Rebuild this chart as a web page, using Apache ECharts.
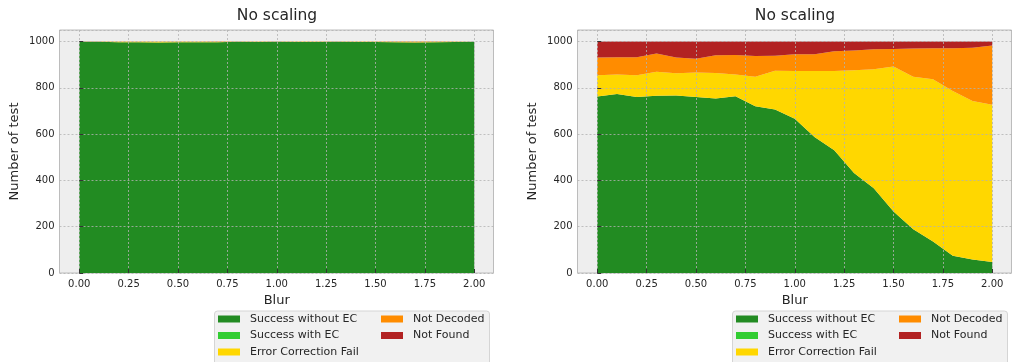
<!DOCTYPE html>
<html>
<head>
<meta charset="utf-8">
<script src="https://cdn.jsdelivr.net/npm/echarts@6/dist/echarts.min.js"></script>
<style>
  html, body { margin: 0; padding: 0; background: #ffffff; }
  #chart { width: 1012px; height: 362px; }
</style>
</head>
<body>
<div id="chart"></div>
<script>
// Blur levels tested (x values)
const blur = ['0.0', '0.1', '0.2', '0.3', '0.4', '0.5', '0.6', '0.7', '0.8', '0.9', '1.0',
              '1.1', '1.2', '1.3', '1.4', '1.5', '1.6', '1.7', '1.8', '1.9', '2.0'];

const seriesNames = ['Success without EC', 'Success with EC', 'Error Correction Fail', 'Not Decoded', 'Not Found'];

// Left panel: outcome counts per blur level
const leftSuccessNoEC = [999, 999, 997, 997, 996, 997, 997, 997, 999, 998, 999, 998, 998, 999, 998, 998, 997, 996, 997, 998, 999];
const leftSuccessEC   = [0, 0, 0, 0, 0, 0, 0, 0, 0, 0, 0, 0, 0, 0, 0, 0, 0, 0, 0, 0, 0];
const leftECFail      = [0, 0, 2, 2, 3, 2, 2, 1, 0, 1, 0, 1, 1, 0, 1, 1, 1, 1, 1, 1, 0];
const leftNotDecoded  = [1, 1, 1, 1, 1, 1, 1, 2, 1, 1, 1, 1, 1, 1, 1, 1, 2, 3, 2, 1, 1];
const leftNotFound    = [0, 0, 0, 0, 0, 0, 0, 0, 0, 0, 0, 0, 0, 0, 0, 0, 0, 0, 0, 0, 0];

// Right panel: outcome counts per blur level
const rightSuccessNoEC = [763, 773, 760, 766, 767, 760, 754, 764, 721, 707, 666, 588, 530, 432, 366, 266, 189, 136, 74, 58, 48];
const rightSuccessEC   = [0, 0, 0, 0, 0, 0, 0, 0, 0, 0, 0, 0, 0, 0, 0, 0, 0, 0, 0, 0, 0];
const rightECFail      = [91, 85, 94, 104, 96, 106, 110, 94, 127, 167, 207, 285, 343, 444, 514, 626, 659, 701, 712, 685, 679];
const rightNotDecoded  = [77, 74, 78, 78, 68, 60, 77, 84, 90, 65, 72, 72, 85, 85, 87, 76, 122, 134, 185, 230, 256];
const rightNotFound    = [69, 68, 68, 52, 69, 74, 59, 58, 62, 61, 55, 55, 42, 39, 33, 32, 30, 29, 29, 27, 17];

const panelTitles = ['No scaling', 'No scaling'];
const xLabel = 'Blur';
const yLabel = 'Number of test';

const colors = ['#228b22', '#32cd32', '#ffd700', '#ff8c00', '#b22222'];
const FONT = 'DejaVu Sans';
const TEXT = '#262626';
const GRIDLINE = { show: true, lineStyle: { color: '#b2b2b2', width: 0.8, type: [2, 2] } };
const TICK = { show: true, inside: true, length: 4, lineStyle: { color: '#333', width: 1 } };

const panels = [
  [leftSuccessNoEC, leftSuccessEC, leftECFail, leftNotDecoded, leftNotFound],
  [rightSuccessNoEC, rightSuccessEC, rightECFail, rightNotDecoded, rightNotFound]
];

const offsets = [0, 518];
const grids = [], xAxes = [], yAxes = [], series = [], titles = [], legends = [], graphics = [];

panels.forEach((vals, p) => {
  const dx = offsets[p];
  const bgIdx = grids.length;
  // frame / background grid (horizontal gridlines and y labels)
  grids.push({ left: 59.5 + dx, top: 30, width: 434, height: 243, show: true,
               outerBoundsMode: 'none', containLabel: false,
               backgroundColor: '#eeeeee', borderColor: '#bcbcbc', borderWidth: 1 });
  // data grid spanning blur 0 .. 2
  const dataIdx = grids.length;
  grids.push({ left: 79.25 + dx, top: 30, width: 395, height: 243,
               outerBoundsMode: 'none', containLabel: false });

  xAxes.push({ type: 'value', gridIndex: bgIdx, min: -0.1, max: 2.1, show: false });
  yAxes.push({
    type: 'value', gridIndex: bgIdx, min: 0, max: 1050, interval: 200, z: 5, position: 'left',
    name: yLabel, nameLocation: 'middle', nameGap: 38,
    nameTextStyle: { fontFamily: FONT, fontSize: 13, color: TEXT },
    axisLine: { show: false },
    axisTick: TICK,
    axisLabel: { fontFamily: FONT, fontSize: 10, color: TEXT, margin: 5, showMaxLabel: false,
                 formatter: v => String(v) },
    splitLine: GRIDLINE
  });

  // category axis carrying the stacked areas
  const catIdx = xAxes.length;
  xAxes.push({ type: 'category', gridIndex: dataIdx, data: blur, boundaryGap: false,
               position: 'top', show: false });
  // value axis for the tick labels and vertical gridlines
  xAxes.push({
    type: 'value', gridIndex: dataIdx, min: 0, max: 2, interval: 0.25, z: 5, position: 'bottom',
    name: xLabel, nameLocation: 'middle', nameGap: 18,
    nameTextStyle: { fontFamily: FONT, fontSize: 13, color: TEXT },
    axisLine: { show: false },
    axisTick: TICK,
    axisLabel: { fontFamily: FONT, fontSize: 10, color: TEXT, margin: 6,
                 formatter: v => v.toFixed(2) },
    splitLine: GRIDLINE
  });
  const valYIdx = yAxes.length;
  yAxes.push({ type: 'value', gridIndex: dataIdx, min: 0, max: 1050, show: false,
               splitLine: { show: false } });

  vals.forEach((arr, s) => {
    series.push({
      name: seriesNames[s], type: 'line', stack: 'panel' + p,
      xAxisIndex: catIdx, yAxisIndex: valYIdx,
      data: arr,
      showSymbol: false, symbol: 'none', silent: true,
      lineStyle: { width: 0 },
      areaStyle: { color: colors[s], opacity: 1 },
      itemStyle: { color: colors[s] },
      z: 2
    });
  });

  titles.push({ text: panelTitles[p], left: 277 + dx, top: 8, textAlign: 'center', padding: 0,
                textStyle: { fontFamily: FONT, fontSize: 15.5, fontWeight: 'normal', color: TEXT } });

  // legend frame
  graphics.push({ type: 'rect', left: 214 + dx, top: 310.5, z: 1,
                  shape: { width: 275, height: 60, r: 3 },
                  style: { fill: '#f1f1f1', stroke: '#d5d5d5', lineWidth: 1 } });

  const legendBase = {
    orient: 'vertical', top: 312.5, padding: 0, itemGap: 3.5,
    itemWidth: 22, itemHeight: 7, icon: 'rect', selectedMode: false,
    textStyle: { fontFamily: FONT, fontSize: 11, color: TEXT, lineHeight: 13, padding: [0, 0, 0, 5] }
  };
  legends.push(Object.assign({}, legendBase, { left: 218 + dx, data: seriesNames.slice(0, 3) }));
  legends.push(Object.assign({}, legendBase, { left: 381 + dx, data: seriesNames.slice(3) }));
});

const chart = echarts.init(document.getElementById('chart'), null, { renderer: 'canvas' });
chart.setOption({
  animation: false,
  backgroundColor: '#ffffff',
  title: titles,
  grid: grids,
  xAxis: xAxes,
  yAxis: yAxes,
  legend: legends,
  graphic: graphics,
  series: series
});
</script>
</body>
</html>
